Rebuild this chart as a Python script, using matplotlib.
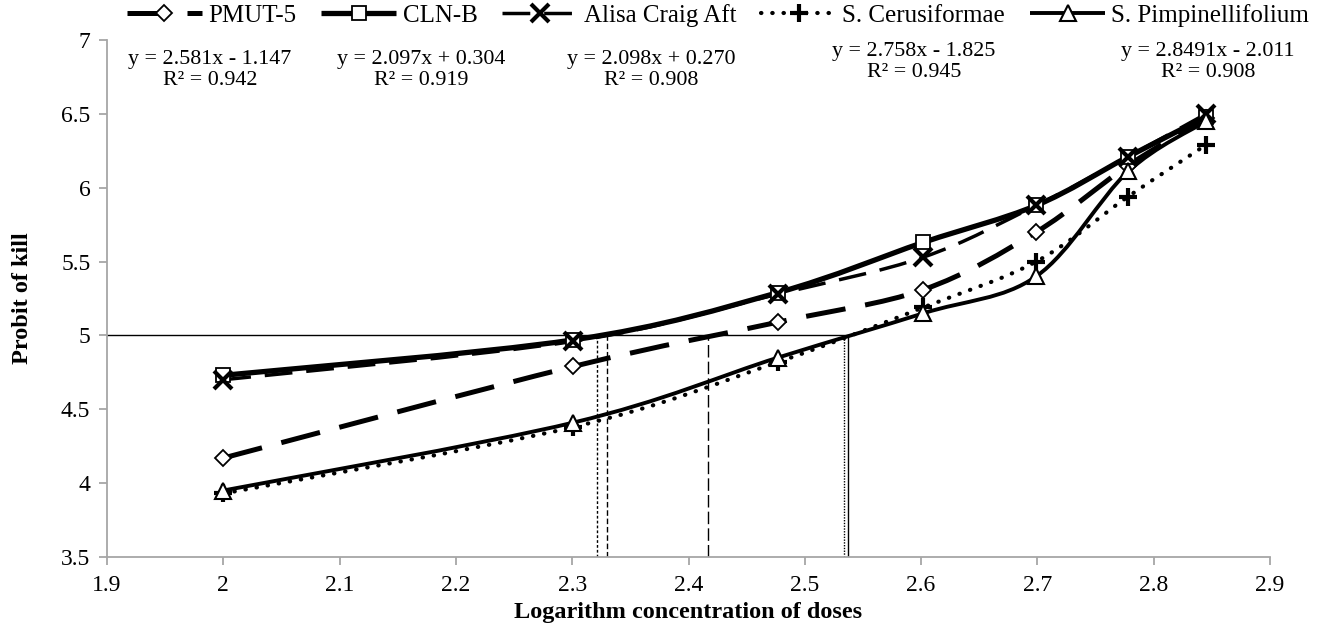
import matplotlib
matplotlib.use("Agg")
import matplotlib.pyplot as plt
from matplotlib.path import Path
from matplotlib.patches import PathPatch
from matplotlib.lines import Line2D
import numpy as np

plt.rcParams['font.family'] = ['Liberation Serif', 'DejaVu Serif']

# ---------------- data ----------------
log_dose = [2.0, 2.301, 2.477, 2.602, 2.699, 2.778, 2.845]

series_names = ["PMUT-5", "CLN-B", "Alisa Craig Aft", "S. Cerusiformae", "S. Pimpinellifolium"]
pmut5 = [4.17, 4.79, 5.09, 5.31, 5.70, 6.15, 6.47]
cln_b = [4.73, 4.97, 5.29, 5.63, 5.88, 6.21, 6.48]
alisa = [4.70, 4.96, 5.28, 5.53, 5.88, 6.21, 6.50]
cerus = [3.93, 4.38, 4.82, 5.19, 5.50, 5.94, 6.29]
pimpi = [3.95, 4.41, 4.85, 5.15, 5.40, 6.11, 6.45]

equations = ["y = 2.581x - 1.147\nR² = 0.942",
             "y = 2.097x + 0.304\nR² = 0.919",
             "y = 2.098x + 0.270\nR² = 0.908",
             "y = 2.758x - 1.825\nR² = 0.945",
             "y = 2.8491x - 2.011\nR² = 0.908"]

lc50_level = 5.0
lc50_x = [2.321, 2.330, 2.417, 2.534, 2.537]

y_ticks = [3.5, 4, 4.5, 5, 5.5, 6, 6.5, 7]
x_ticks = [1.9, 2.0, 2.1, 2.2, 2.3, 2.4, 2.5, 2.6, 2.7, 2.8, 2.9]

# ---------------- styles ----------------
values = [pmut5, cln_b, alisa, cerus, pimpi]
styles = [
    dict(lw=3.6, ls=(0, (8.0, 4.0)), marker='D', ms=8.5, mew=1.3, cap='butt'),
    dict(lw=3.8, ls='-', marker='s', ms=10, mew=1.3, cap='butt'),
    dict(lw=2.5, ls=(0, (8, 4)), marker='x', ms=13, mew=3.0, cap='butt'),
    dict(lw=3.0, ls=(0, (0.1, 2.6)), marker='+', ms=13, mew=3.0, cap='round'),
    dict(lw=2.8, ls='-', marker='^', ms=11, mew=1.5, cap='butt'),
]
eq_pos = [(210, 70), (421, 70), (651, 70), (914, 62), (1208, 62)]
lc_styles = [(0, (2, 1.5)), (0, (4, 2)), (0, (9, 3)), (0, (1, 1)), '-']

W, H = 1325, 632
fig = plt.figure(figsize=(W / 100, H / 100), dpi=100)
ax_l, ax_r, ax_b, ax_t = 107, 1270, 557, 40
ax = fig.add_axes([ax_l / W, 1 - ax_b / H, (ax_r - ax_l) / W, (ax_b - ax_t) / H])
ax.set_xlim(1.9, 2.9)
ax.set_ylim(3.5, 7)


def smooth_path(x, y):
    pts = np.column_stack([x, y]).astype(float)
    n = len(pts)
    verts = [pts[0]]
    codes = [Path.MOVETO]
    for i in range(n - 1):
        p0 = pts[i - 1] if i > 0 else pts[i]
        p1 = pts[i]
        p2 = pts[i + 1]
        p3 = pts[i + 2] if i + 2 < n else pts[i + 1]
        c1 = p1 + (p2 - p0) / 6.0
        c2 = p2 - (p3 - p1) / 6.0
        verts += [c1, c2, p2]
        codes += [Path.CURVE4] * 3
    return Path(verts, codes)


# LC50 guide lines
ax.plot([1.9, max(lc50_x)], [lc50_level, lc50_level], color='black', lw=1.0, zorder=1)
for xv, ls in zip(lc50_x, lc_styles):
    ax.plot([xv, xv], [3.5, lc50_level], color='black', lw=1.0, ls=ls, zorder=1)

handles = []
for name, vals, st in zip(series_names, values, styles):
    patch = PathPatch(smooth_path(log_dose, vals), facecolor='none', edgecolor='black',
                      lw=st['lw'], ls=st['ls'], zorder=3)
    patch.set_capstyle(st['cap'])
    ax.add_patch(patch)
    ax.plot(log_dose, vals, ls='none', marker=st['marker'], ms=st['ms'], mew=st['mew'],
            mec='black', mfc='white', zorder=4)
    h = Line2D([], [], color='black', lw=st['lw'], ls=st['ls'], marker=st['marker'],
               ms=st['ms'], mew=st['mew'], mec='black', mfc='white',
               solid_capstyle=st['cap'], dash_capstyle=st['cap'])
    handles.append(h)

for txt, (px, py) in zip(equations, eq_pos):
    ax.text((px - ax_l) / (ax_r - ax_l), (ax_b - py) / (ax_b - ax_t), txt,
            transform=ax.transAxes, ha='center', va='center', multialignment='center',
            fontsize=15.8, linespacing=1.1)

for s in ['top', 'right']:
    ax.spines[s].set_visible(False)
for s in ['left', 'bottom']:
    ax.spines[s].set_color('#a6a6a6')
    ax.spines[s].set_linewidth(1.3)
ax.tick_params(axis='both', direction='out', length=6, width=1.3, color='#a6a6a6',
               labelsize=17, labelcolor='black')
ax.tick_params(axis='x', pad=7)
ax.tick_params(axis='y', pad=6)
ax.set_xticks(x_ticks)
ax.set_xticklabels([f"{v:g}" for v in x_ticks])
ax.set_yticks(y_ticks)
ax.set_yticklabels([f"{v:g}" for v in y_ticks])

ax.set_xlabel("Logarithm concentration of doses", fontsize=17.5, fontweight='bold', labelpad=4)
ax.set_ylabel("Probit of kill", fontsize=17.5, fontweight='bold', labelpad=20)

fig.legend(handles, series_names, loc='center', bbox_to_anchor=(0.542, 0.976), ncol=5,
           frameon=False, fontsize=18, handlelength=3.0, handletextpad=0.25,
           columnspacing=1.0, borderaxespad=0)

fig.savefig("out.png", dpi=100)
